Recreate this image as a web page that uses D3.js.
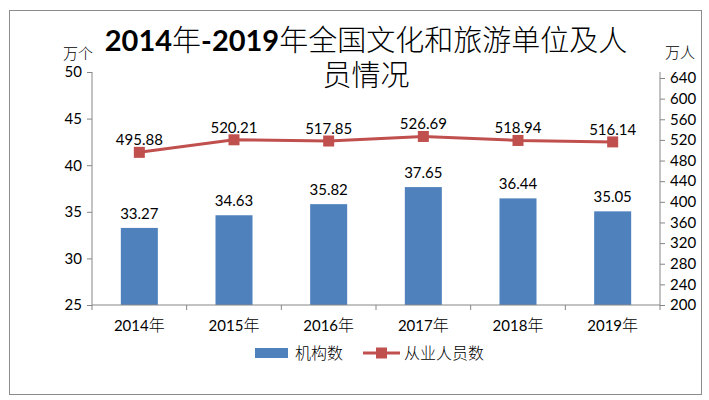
<!DOCTYPE html>
<html><head><meta charset="utf-8">
<script src="https://cdn.jsdelivr.net/npm/d3@7"></script>
<style>
body{margin:0;background:#fff;}
svg text{font-family:Lato,"Noto Sans CJK SC",sans-serif;fill:#000;}
.cjk{font-family:"Noto Sans CJK SC",sans-serif;font-weight:300;}
</style></head>
<body><svg id="c" width="709" height="400"></svg>
<script>
const categories = ["2014年","2015年","2016年","2017年","2018年","2019年"];
const institutions = [33.27,34.63,35.82,37.65,36.44,35.05];
const employees = [495.88,520.21,517.85,526.69,518.94,516.14];
const leftTicks = [25,30,35,40,45,50];
const rightTicks = [200,240,280,320,360,400,440,480,520,560,600,640];

const svg = d3.select("#c");
const barColor = "#4F81BD", lineColor = "#C0504D", axisColor = "#868686";
const L = 92, R = 660, T = 72, B = 305;

svg.append("rect").attr("x",9.5).attr("y",10.5).attr("width",692).attr("height",384)
  .attr("fill","#fff").attr("stroke","#8c8c8c").attr("stroke-width",1);

// title
const title = svg.append("text").attr("text-anchor","middle").attr("font-size",29);
const t1 = title.append("tspan").attr("x",366).attr("y",51);
t1.append("tspan").attr("font-weight","bold").text("2014");
t1.append("tspan").attr("class","cjk").text("年");
t1.append("tspan").attr("font-weight","bold").text("-2019");
t1.append("tspan").attr("class","cjk").text("年全国文化和旅游单位及人");
title.append("tspan").attr("class","cjk").attr("x",366).attr("y",86).text("员情况");

const x = d3.scaleBand().domain(categories).range([L,R]);
const yL = d3.scaleLinear().domain([25,50]).range([B,T]);
const yR = d3.scaleLinear().domain([200,640]).range([B,78]);

// left axis
const gl = svg.append("g").attr("transform",`translate(${L},0)`)
  .call(d3.axisLeft(yL).tickValues(leftTicks).tickSize(5).tickPadding(5));
gl.select(".domain").attr("stroke",axisColor).attr("d",`M0,${B}V${T}`);
gl.selectAll(".tick line").attr("stroke",axisColor);
gl.selectAll(".tick text").attr("font-size",15).attr("font-family","Lato");

// right axis
const gr = svg.append("g").attr("transform",`translate(${R},0)`)
  .call(d3.axisRight(yR).tickValues(rightTicks).tickSize(5).tickPadding(5));
gr.select(".domain").attr("stroke",axisColor).attr("d",`M0,${B}V${T}`);
gr.selectAll(".tick line").attr("stroke",axisColor);
gr.selectAll(".tick text").attr("font-size",15).attr("font-family","Lato");

// bars
const bw = 37;
svg.selectAll(".bar").data(institutions).enter().append("rect")
  .attr("x",(d,i)=>x(categories[i])+x.bandwidth()/2-bw/2)
  .attr("y",d=>yL(d)).attr("width",bw).attr("height",d=>B-yL(d))
  .attr("fill",barColor);
svg.selectAll(".blab").data(institutions).enter().append("text")
  .attr("x",(d,i)=>x(categories[i])+x.bandwidth()/2).attr("y",d=>yL(d)-9)
  .attr("text-anchor","middle").attr("font-size",15).text(d=>d.toFixed(2));

// x axis
const gx = svg.append("g").attr("transform",`translate(0,${B})`);
gx.append("line").attr("x1",L).attr("x2",R).attr("stroke",axisColor);
const bounds = [L].concat(categories.map(c=>x(c)+x.bandwidth()));
gx.selectAll(".xt").data(bounds).enter().append("line")
  .attr("x1",d=>d).attr("x2",d=>d).attr("y1",0).attr("y2",5).attr("stroke",axisColor);
const xl = gx.selectAll(".xl").data(categories).enter().append("text")
  .attr("x",d=>x(d)+x.bandwidth()/2).attr("y",26).attr("text-anchor","middle")
  .attr("font-size",15);
xl.append("tspan").text(d=>d.slice(0,4));
xl.append("tspan").attr("class","cjk").attr("font-size",16).text(d=>d.slice(4));

// line
const cx = (d,i)=>x(categories[i])+x.bandwidth()/2;
const line = d3.line().x(cx).y(d=>yR(d));
svg.append("path").datum(employees).attr("d",line).attr("fill","none")
  .attr("stroke",lineColor).attr("stroke-width",3);
svg.selectAll(".mk").data(employees).enter().append("rect")
  .attr("x",(d,i)=>cx(d,i)-5.5).attr("y",d=>yR(d)-5.5).attr("width",11).attr("height",11)
  .attr("fill",lineColor);
svg.selectAll(".llab").data(employees).enter().append("text")
  .attr("x",cx).attr("y",d=>yR(d)-7).attr("text-anchor","middle")
  .attr("font-size",15).text(d=>d.toFixed(2));

// units
svg.append("text").attr("class","cjk").attr("x",78).attr("y",59).attr("text-anchor","middle").attr("font-size",15).text("万个");
svg.append("text").attr("class","cjk").attr("x",680).attr("y",58).attr("text-anchor","middle").attr("font-size",15).text("万人");

// legend
svg.append("rect").attr("x",255).attr("y",348).attr("width",33).attr("height",10).attr("fill",barColor);
svg.append("text").attr("class","cjk").attr("x",295).attr("y",359).attr("font-size",16).text("机构数");
svg.append("line").attr("x1",363).attr("x2",400).attr("y1",353).attr("y2",353).attr("stroke",lineColor).attr("stroke-width",3);
svg.append("rect").attr("x",376).attr("y",347.5).attr("width",11).attr("height",11).attr("fill",lineColor);
svg.append("text").attr("class","cjk").attr("x",404).attr("y",359).attr("font-size",16).text("从业人员数");
</script></body></html>
